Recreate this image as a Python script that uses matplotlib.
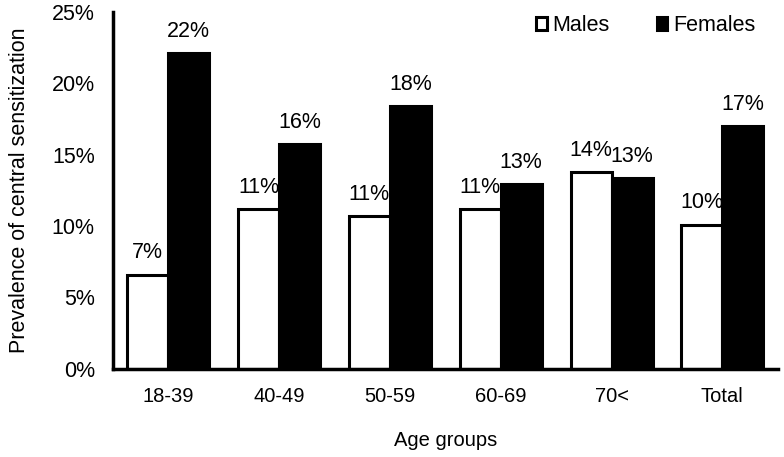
import numpy as np
import matplotlib.pyplot as plt
from matplotlib.ticker import PercentFormatter

plt.rcParams['font.family'] = ['Liberation Sans', 'DejaVu Sans']

groups = ['18-39', '40-49', '50-59', '60-69', '70<', 'Total']
males = [6.6, 11.2, 10.7, 11.2, 13.8, 10.1]
females = [22.1, 15.75, 18.4, 12.95, 13.35, 17.0]
male_labels = ['7%', '11%', '11%', '11%', '14%', '10%']
female_labels = ['22%', '16%', '18%', '13%', '13%', '17%']

fig = plt.figure(figsize=(7.84, 4.57), dpi=100)
ax = fig.add_axes([0.144, 0.193, 0.848, 0.781])

x = np.arange(len(groups))
w = 0.37
b1 = ax.bar(x - w / 2, males, w, color='white', edgecolor='black', linewidth=2.2, label='Males')
b2 = ax.bar(x + w / 2, females, w, color='black', edgecolor='black', linewidth=2.2, label='Females')

for bars, labs in ((b1, male_labels), (b2, female_labels)):
    for b, t in zip(bars, labs):
        ax.annotate(t, (b.get_x() + b.get_width() / 2, b.get_height()),
                    xytext=(0, 8), textcoords='offset points',
                    ha='center', va='bottom', fontsize=15.5)

ax.set_xlim(-0.5, 5.5)
ax.set_ylim(0, 25)
ax.set_yticks([0, 5, 10, 15, 20, 25])
ax.yaxis.set_major_formatter(PercentFormatter(decimals=0))
ax.set_xticks(x)
ax.set_xticklabels(groups)
ax.tick_params(length=0)
ax.tick_params(axis='y', pad=13, labelsize=15.5)
ax.tick_params(axis='x', pad=13, labelsize=14.5)
for s in ['top', 'right']:
    ax.spines[s].set_visible(False)
for s in ['left', 'bottom']:
    ax.spines[s].set_linewidth(2.5)

ax.set_ylabel('Prevalence of central sensitization', fontsize=15.5)
ax.yaxis.set_label_coords(-0.125, 0.5)
ax.set_xlabel('Age groups', fontsize=14.5, labelpad=18)

ax.legend(loc='upper right', bbox_to_anchor=(0.995, 1.045), ncol=2, frameon=False,
          fontsize=15.5, handlelength=0.5, handleheight=0.5, handletextpad=0.25,
          columnspacing=2.2)

fig.savefig('out.png', dpi=100)
